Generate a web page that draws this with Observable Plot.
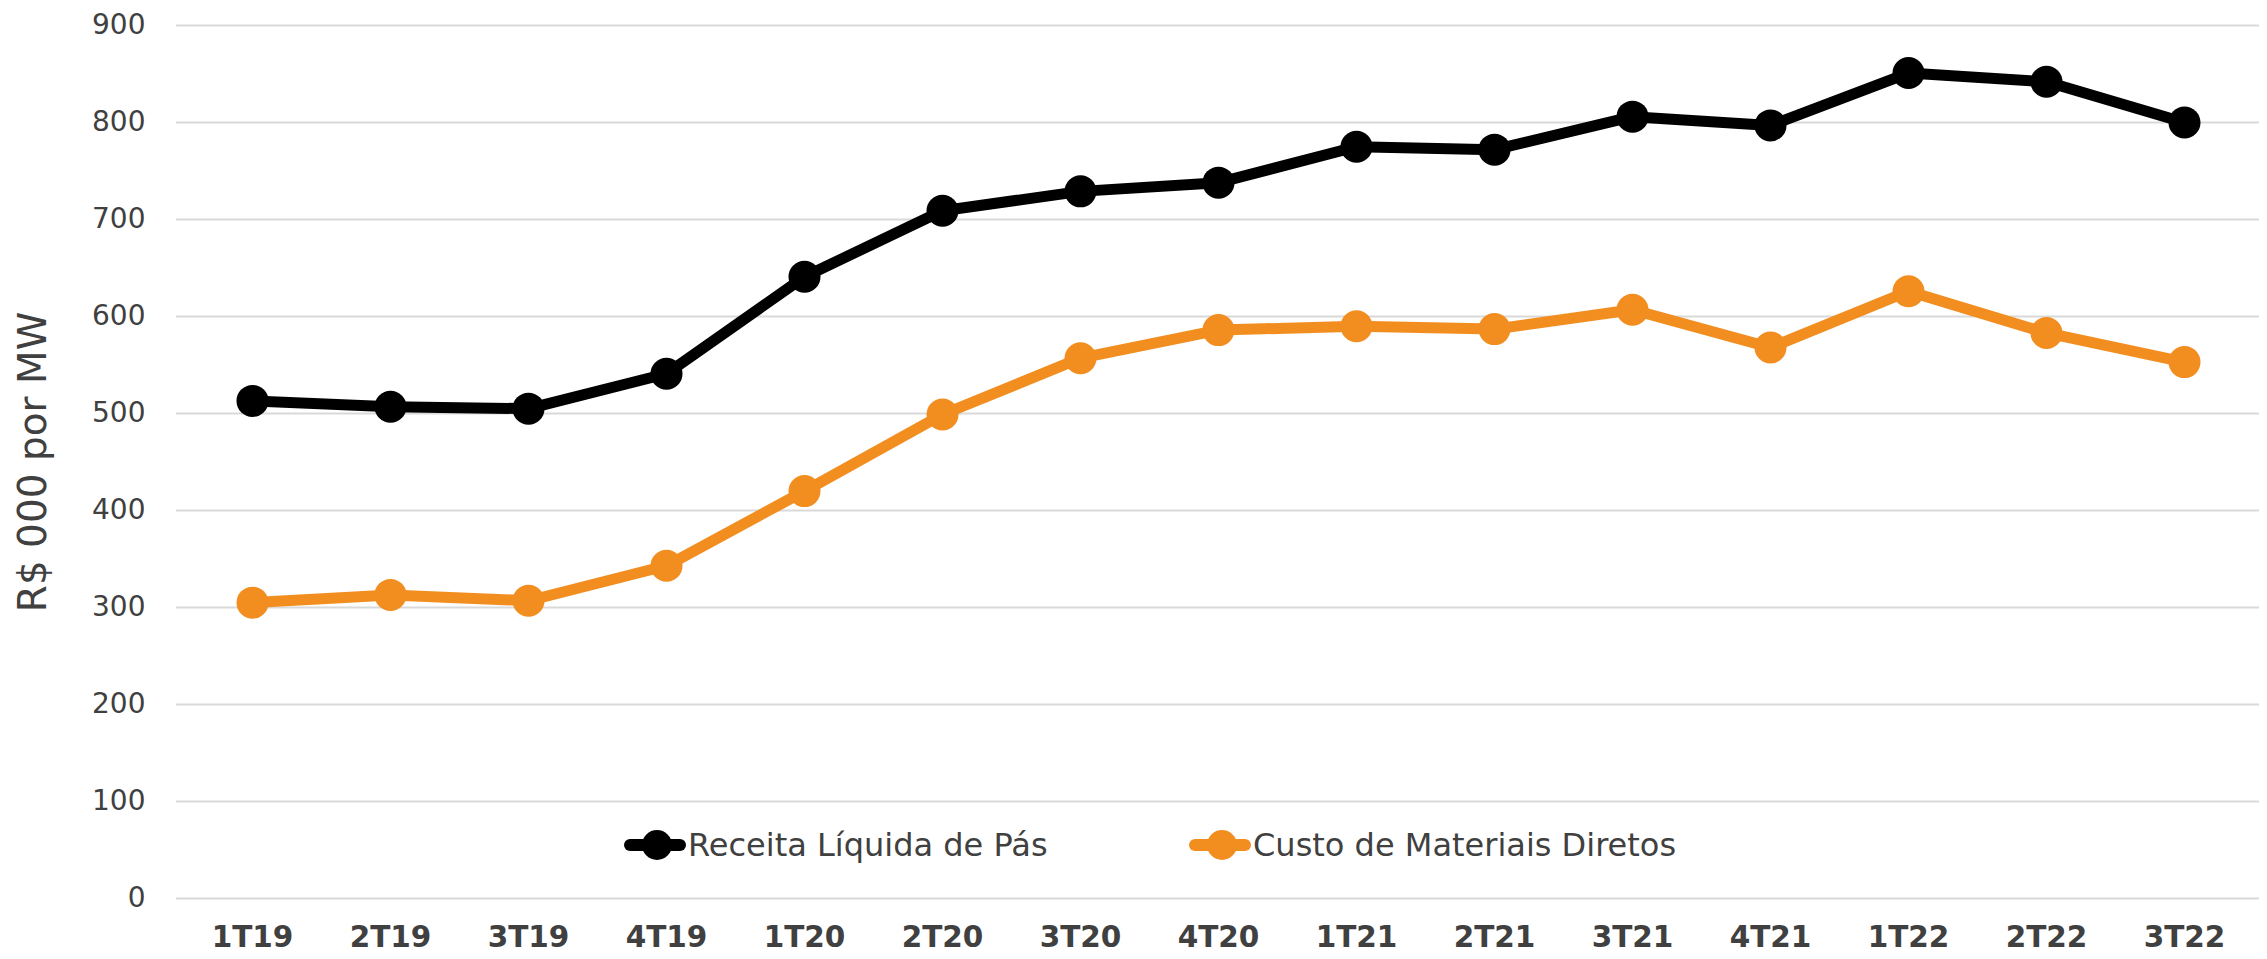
<!DOCTYPE html>
<html>
<head>
<meta charset="utf-8">
<script src="https://cdn.jsdelivr.net/npm/d3@7"></script>
<script src="https://cdn.jsdelivr.net/npm/@observablehq/plot@0.6"></script>
<style>
  html, body { margin: 0; padding: 0; background: #fff; }
  #wrap { position: relative; width: 2267px; height: 959px; font-family: "DejaVu Sans", Verdana, sans-serif; }
  #legend { position: absolute; top: 825px; left: 0; width: 2267px; height: 40px; font-size: 32px; color: #404040; }
  .item { position: absolute; display: flex; align-items: center; height: 40px; }
  .sw { position: relative; width: 62px; height: 40px; }
  .sw .ln { position: absolute; left: 0; right: 0; top: 14px; height: 12px; border-radius: 6px; }
  .sw .dt { position: absolute; left: 18px; top: 5px; width: 30px; height: 30px; border-radius: 50%; }
  svg [aria-label="y-axis label"] text { font-size: 39px; }
</style>
</head>
<body>
<div id="wrap">
  <div id="chart"></div>
  <div id="legend"></div>
</div>
<script>
const quarters = ["1T19","2T19","3T19","4T19","1T20","2T20","3T20","4T20","1T21","2T21","3T21","4T21","1T22","2T22","3T22"];
const receita = [513, 507, 505, 541, 641, 709, 729, 738, 775, 772, 806, 797, 851, 842, 800];
const custo   = [305, 313, 307, 343, 420, 499, 557, 586, 590, 587, 607, 568, 626, 583, 553];
const seriesNames = ["Receita Líquida de Pás", "Custo de Materiais Diretos"];
const seriesColors = ["#000000", "#f28e20"];
const yTicks = [0, 100, 200, 300, 400, 500, 600, 700, 800, 900];

const data = [];
quarters.forEach((q, i) => {
  data.push({q, v: receita[i], s: seriesNames[0]});
  data.push({q, v: custo[i], s: seriesNames[1]});
});

const chart = Plot.plot({
  width: 2267,
  height: 959,
  marginLeft: 176,
  marginRight: 8,
  marginTop: 25,
  marginBottom: 61,
  style: { fontFamily: "DejaVu Sans, Verdana, sans-serif", background: "#fff" },
  x: { type: "point", domain: quarters, padding: 0.5 },
  y: { domain: [0, 900] },
  color: { domain: seriesNames, range: seriesColors },
  marks: [
    Plot.ruleY(yTicks, { stroke: "#d9d9d9", strokeWidth: 2 }),
    Plot.axisY(yTicks, {
      tickSize: 0, tickPadding: 31, fontSize: 28, color: "#404040",
      label: "R$ 000 por MW", labelAnchor: "center", labelArrow: "none", labelOffset: 158
    }),
    Plot.axisX({
      tickSize: 0, tickPadding: 28, fontSize: 29.5, fontWeight: "bold", color: "#404040", label: null
    }),
    Plot.line(data, { x: "q", y: "v", z: "s", stroke: "s", strokeWidth: 11, strokeLinejoin: "round" }),
    Plot.dot(data, { x: "q", y: "v", fill: "s", r: 16 })
  ]
});
document.getElementById("chart").appendChild(chart);

const legend = document.getElementById("legend");
const legendLeft = [624, 1189];
seriesNames.forEach((name, i) => {
  const it = document.createElement("div");
  it.className = "item";
  it.style.left = legendLeft[i] + "px";
  it.innerHTML = `<div class="sw"><div class="ln" style="background:${seriesColors[i]}"></div><div class="dt" style="background:${seriesColors[i]}"></div></div><span style="margin-left:2px">${name}</span>`;
  legend.appendChild(it);
});
</script>
</body>
</html>
